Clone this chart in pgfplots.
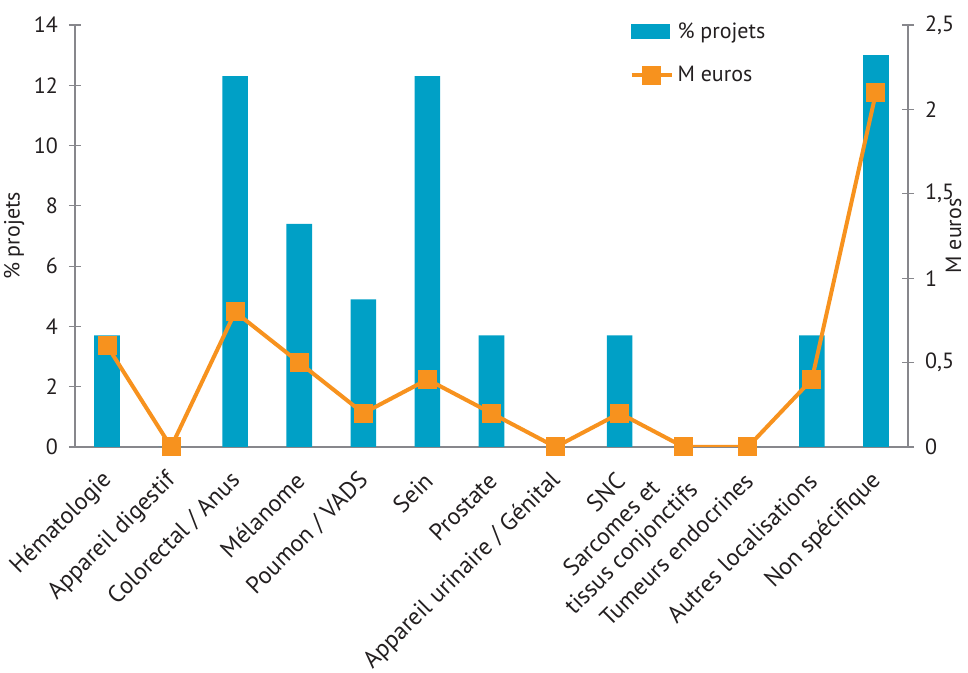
\documentclass[border=0pt]{standalone}
\usepackage{fontspec}
\setmainfont{PT Sans}
\usepackage{pgfplots}
\pgfplotsset{compat=1.18}
\definecolor{barblue}{RGB}{0,160,198}
\definecolor{lineorange}{RGB}{247,146,30}
\definecolor{axisgrey}{RGB}{135,135,140}
\definecolor{txt}{RGB}{35,31,32}
\pgfplotsset{
  marklegend/.style={legend image code/.code={%
    \draw[#1] (0pt,0pt) -- (20pt,0pt);
    \draw[#1] plot coordinates {(10pt,0pt)};}},
  barlegend/.style={legend image code/.code={%
    \fill[barblue] (0pt,-3.5pt) rectangle (19pt,3.5pt);}},
}

\begin{document}
\begin{tikzpicture}[font=\fontsize{11}{13}\selectfont, text=txt]
\useasboundingbox (-37.5pt,-113pt) rectangle (446.5pt,223.5pt);
\pgfplotsset{
  common/.style={
    scale only axis, width=416.5pt, height=211pt,
    xmin=-0.5, xmax=12.5,
    /pgf/number format/assume math mode=true,
    axis line style={axisgrey, line width=1pt},
    tick style={axisgrey, line width=0.6pt},
    tick align=center, major tick length=6pt,
    ticklabel style={font=\fontsize{11}{13}\selectfont},
  }
}
% left axis: share of projects
\begin{axis}[common,
  ymin=0, ymax=14, ytick={0,2,...,14},
  axis x line*=bottom, axis y line*=left,
  xtick={0,...,12},
  xticklabels={H\'ematologie, Appareil digestif, Colorectal / Anus, M\'elanome,
    Poumon / VADS, Sein, Prostate, Appareil urinaire / G\'enital, SNC,
    {Sarcomes et\\tissus conjonctifs}, Tumeurs endocrines,
    Autres localisations, Non sp\'ecifique},
  xticklabel style={xshift=3pt, yshift=-9.5pt, rotate=45, anchor=east, align=center,
    font=\fontsize{12}{14}\selectfont},
  major x tick style={draw=none},
  extra x ticks={-0.5,0.5,...,12.5}, extra x tick labels={},
  extra x tick style={major tick length=7pt, tick style={axisgrey, line width=0.6pt}},
  ylabel={\% projets}, ylabel shift=-2pt,
  yticklabel style={xshift=-2pt},
]
\addplot[ybar, bar width=12.8pt, fill=barblue, draw=none] coordinates {
  (0,3.7) (1,0) (2,12.3) (3,7.4) (4,4.9) (5,12.3) (6,3.7)
  (7,0) (8,3.7) (9,0) (10,0) (11,3.7) (12,13.0)
};
\end{axis}
% right axis: funding in millions of euros
\begin{axis}[common,
  ymin=0, ymax=2.5, ytick={0,0.5,...,2.5},
  /pgf/number format/use comma,
  axis y line*=right, axis x line=none,
  ylabel={M euros}, ylabel shift=-11pt,
  yticklabel style={xshift=2pt},
  legend style={at={(rel axis cs:0.658,1.026)}, anchor=north west,
    draw=none, fill=none, row sep=8.5pt, font=\fontsize{11}{13}\selectfont,
    cells={anchor=west}},
]
\addlegendimage{barlegend}
\addlegendentry{\% projets}
\addplot[lineorange, line width=2pt, mark=square*, mark size=3.75pt,
  mark options={fill=lineorange}, marklegend]
coordinates {
  (0,0.6) (1,0) (2,0.8) (3,0.5) (4,0.2) (5,0.4) (6,0.2)
  (7,0) (8,0.2) (9,0) (10,0) (11,0.4) (12,2.1)
};
\addlegendentry{M euros}
\end{axis}
\end{tikzpicture}
\end{document}
